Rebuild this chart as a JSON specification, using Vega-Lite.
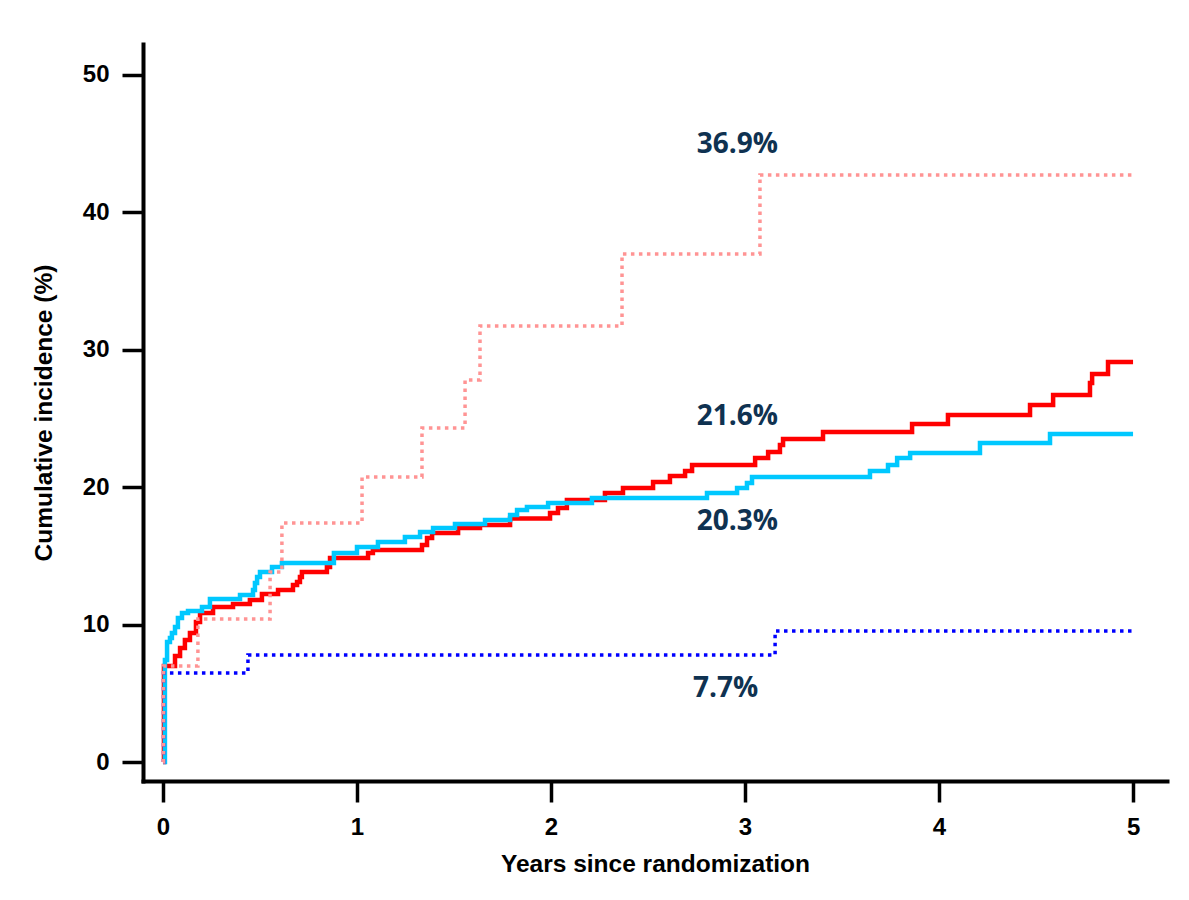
{
  "$schema": "https://vega.github.io/schema/vega-lite/v6.json",
  "autosize": "none",
  "width": 1024,
  "height": 737,
  "padding": {"left": 143, "top": 44, "right": 22, "bottom": 119},
  "background": "white",
  "config": {"view": {"stroke": null}},
  "datasets": {
    "curves": [
      {"series": "red", "t": 0, "pct": 0},
      {"series": "red", "t": 0.005, "pct": 6.99},
      {"series": "red", "t": 0.062, "pct": 7.71},
      {"series": "red", "t": 0.088, "pct": 8.3},
      {"series": "red", "t": 0.113, "pct": 8.88},
      {"series": "red", "t": 0.139, "pct": 9.39},
      {"series": "red", "t": 0.17, "pct": 10.19},
      {"series": "red", "t": 0.191, "pct": 10.84},
      {"series": "red", "t": 0.258, "pct": 11.28},
      {"series": "red", "t": 0.361, "pct": 11.5},
      {"series": "red", "t": 0.448, "pct": 11.79},
      {"series": "red", "t": 0.51, "pct": 12.23},
      {"series": "red", "t": 0.593, "pct": 12.52},
      {"series": "red", "t": 0.67, "pct": 12.88},
      {"series": "red", "t": 0.691, "pct": 13.1},
      {"series": "red", "t": 0.706, "pct": 13.46},
      {"series": "red", "t": 0.716, "pct": 13.83},
      {"series": "red", "t": 0.845, "pct": 14.19},
      {"series": "red", "t": 0.861, "pct": 14.85},
      {"series": "red", "t": 1.057, "pct": 15.21},
      {"series": "red", "t": 1.082, "pct": 15.43},
      {"series": "red", "t": 1.335, "pct": 15.79},
      {"series": "red", "t": 1.361, "pct": 16.3},
      {"series": "red", "t": 1.387, "pct": 16.67},
      {"series": "red", "t": 1.521, "pct": 17.03},
      {"series": "red", "t": 1.634, "pct": 17.25},
      {"series": "red", "t": 1.789, "pct": 17.72},
      {"series": "red", "t": 1.995, "pct": 18.12},
      {"series": "red", "t": 2.036, "pct": 18.49},
      {"series": "red", "t": 2.082, "pct": 19.07},
      {"series": "red", "t": 2.278, "pct": 19.58},
      {"series": "red", "t": 2.371, "pct": 19.94},
      {"series": "red", "t": 2.526, "pct": 20.38},
      {"series": "red", "t": 2.613, "pct": 20.82},
      {"series": "red", "t": 2.691, "pct": 21.18},
      {"series": "red", "t": 2.727, "pct": 21.62},
      {"series": "red", "t": 3.052, "pct": 22.13},
      {"series": "red", "t": 3.119, "pct": 22.56},
      {"series": "red", "t": 3.18, "pct": 23.07},
      {"series": "red", "t": 3.196, "pct": 23.51},
      {"series": "red", "t": 3.402, "pct": 24.02},
      {"series": "red", "t": 3.861, "pct": 24.6},
      {"series": "red", "t": 4.046, "pct": 25.25},
      {"series": "red", "t": 4.469, "pct": 25.98},
      {"series": "red", "t": 4.588, "pct": 26.71},
      {"series": "red", "t": 4.778, "pct": 27.58},
      {"series": "red", "t": 4.789, "pct": 28.24},
      {"series": "red", "t": 4.871, "pct": 29.11},
      {"series": "red", "t": 5.0, "pct": 29.11},
      {"series": "cyan", "t": 0, "pct": 0},
      {"series": "cyan", "t": 0.01, "pct": 7.42},
      {"series": "cyan", "t": 0.021, "pct": 8.73},
      {"series": "cyan", "t": 0.036, "pct": 9.02},
      {"series": "cyan", "t": 0.046, "pct": 9.39},
      {"series": "cyan", "t": 0.062, "pct": 9.83},
      {"series": "cyan", "t": 0.077, "pct": 10.48},
      {"series": "cyan", "t": 0.098, "pct": 10.84},
      {"series": "cyan", "t": 0.129, "pct": 10.99},
      {"series": "cyan", "t": 0.201, "pct": 11.28},
      {"series": "cyan", "t": 0.242, "pct": 11.86},
      {"series": "cyan", "t": 0.397, "pct": 12.15},
      {"series": "cyan", "t": 0.464, "pct": 12.52},
      {"series": "cyan", "t": 0.474, "pct": 13.03},
      {"series": "cyan", "t": 0.485, "pct": 13.46},
      {"series": "cyan", "t": 0.5, "pct": 13.83},
      {"series": "cyan", "t": 0.562, "pct": 14.19},
      {"series": "cyan", "t": 0.613, "pct": 14.48},
      {"series": "cyan", "t": 0.881, "pct": 15.21},
      {"series": "cyan", "t": 1.0, "pct": 15.65},
      {"series": "cyan", "t": 1.108, "pct": 16.01},
      {"series": "cyan", "t": 1.247, "pct": 16.38},
      {"series": "cyan", "t": 1.325, "pct": 16.74},
      {"series": "cyan", "t": 1.392, "pct": 17.03},
      {"series": "cyan", "t": 1.505, "pct": 17.32},
      {"series": "cyan", "t": 1.66, "pct": 17.61},
      {"series": "cyan", "t": 1.789, "pct": 17.98},
      {"series": "cyan", "t": 1.825, "pct": 18.34},
      {"series": "cyan", "t": 1.876, "pct": 18.56},
      {"series": "cyan", "t": 1.985, "pct": 18.85},
      {"series": "cyan", "t": 2.211, "pct": 19.21},
      {"series": "cyan", "t": 2.804, "pct": 19.58},
      {"series": "cyan", "t": 2.959, "pct": 19.94},
      {"series": "cyan", "t": 3.01, "pct": 20.31},
      {"series": "cyan", "t": 3.036, "pct": 20.74},
      {"series": "cyan", "t": 3.644, "pct": 21.18},
      {"series": "cyan", "t": 3.737, "pct": 21.62},
      {"series": "cyan", "t": 3.784, "pct": 22.13},
      {"series": "cyan", "t": 3.851, "pct": 22.49},
      {"series": "cyan", "t": 4.211, "pct": 23.22},
      {"series": "cyan", "t": 4.572, "pct": 23.87},
      {"series": "cyan", "t": 5.0, "pct": 23.87},
      {"series": "blue", "t": 0, "pct": 0},
      {"series": "blue", "t": 0.003, "pct": 6.48},
      {"series": "blue", "t": 0.438, "pct": 7.79},
      {"series": "blue", "t": 3.155, "pct": 9.53},
      {"series": "blue", "t": 5.0, "pct": 9.53},
      {"series": "pink", "t": 0, "pct": 0},
      {"series": "pink", "t": 0.003, "pct": 6.99},
      {"series": "pink", "t": 0.18, "pct": 10.41},
      {"series": "pink", "t": 0.552, "pct": 13.83},
      {"series": "pink", "t": 0.613, "pct": 17.39},
      {"series": "pink", "t": 1.026, "pct": 20.74},
      {"series": "pink", "t": 1.335, "pct": 24.31},
      {"series": "pink", "t": 1.557, "pct": 27.8},
      {"series": "pink", "t": 1.634, "pct": 31.73},
      {"series": "pink", "t": 2.366, "pct": 36.97},
      {"series": "pink", "t": 3.077, "pct": 42.72},
      {"series": "pink", "t": 5.0, "pct": 42.72}
    ],
    "labels": [
      {"text": "36.9%", "t": 2.96, "pct": 44.9},
      {"text": "21.6%", "t": 2.96, "pct": 25.1},
      {"text": "20.3%", "t": 2.96, "pct": 17.46},
      {"text": "7.7%", "t": 2.9, "pct": 5.31}
    ]
  },
  "encoding": {
    "x": {
      "field": "t", "type": "quantitative",
      "scale": {"domain": [-0.103, 5.175], "nice": false, "zero": false},
      "axis": {
        "title": "Years since randomization",
        "values": [0, 1, 2, 3, 4, 5],
        "grid": false,
        "domainColor": "black", "domainWidth": 4, "domainCap": "square",
        "tickColor": "black", "tickWidth": 3.5, "tickSize": 21,
        "labelFont": "Liberation Sans", "labelFontWeight": "bold", "labelFontSize": 24, "labelColor": "black",
        "labelPadding": 13,
        "titleFont": "Liberation Sans", "titleFontWeight": "bold", "titleFontSize": 24.5, "titleColor": "black",
        "titlePadding": 13
      }
    },
    "y": {
      "field": "pct", "type": "quantitative",
      "scale": {"domain": [-1.38, 52.25], "nice": false, "zero": false},
      "axis": {
        "title": "Cumulative incidence (%)",
        "values": [0, 10, 20, 30, 40, 50],
        "grid": false,
        "domainColor": "black", "domainWidth": 4, "domainCap": "square",
        "tickColor": "black", "tickWidth": 3.5, "tickSize": 21,
        "labelFont": "Liberation Sans", "labelFontWeight": "bold", "labelFontSize": 24, "labelColor": "black",
        "labelPadding": 13,
        "titleFont": "Liberation Sans", "titleFontWeight": "bold", "titleFontSize": 24.5, "titleColor": "black",
        "titlePadding": 26
      }
    }
  },
  "layer": [
    {
      "data": {"name": "curves"},
      "transform": [{"filter": "datum.series === 'red'"}],
      "mark": {"type": "line", "interpolate": "step-after", "color": "#FF0000", "strokeWidth": 4.5}
    },
    {
      "data": {"name": "curves"},
      "transform": [{"filter": "datum.series === 'cyan'"}],
      "mark": {"type": "line", "interpolate": "step-after", "color": "#00C8FF", "strokeWidth": 4.5}
    },
    {
      "data": {"name": "curves"},
      "transform": [{"filter": "datum.series === 'blue'"}],
      "mark": {"type": "line", "interpolate": "step-after", "color": "#0000FF", "strokeWidth": 3.5, "strokeDash": [3.5, 4.5]}
    },
    {
      "data": {"name": "curves"},
      "transform": [{"filter": "datum.series === 'pink'"}],
      "mark": {"type": "line", "interpolate": "step-after", "color": "#FF9494", "strokeWidth": 3.5, "strokeDash": [3.5, 4.5]}
    },
    {
      "data": {"name": "labels"},
      "mark": {"type": "text", "font": "Open Sans", "fontWeight": "bold", "fontSize": 28, "color": "#0F3251", "align": "center", "baseline": "middle"},
      "encoding": {"text": {"field": "text"}}
    }
  ]
}
